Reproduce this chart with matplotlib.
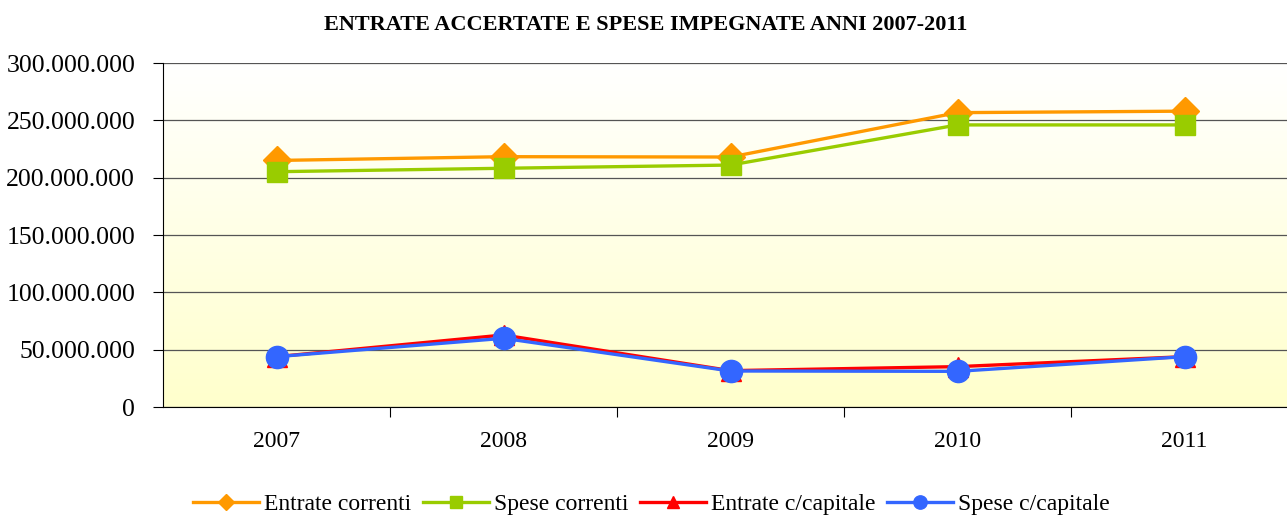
import numpy as np
import matplotlib.pyplot as plt
from matplotlib.ticker import FuncFormatter

years = ["2007", "2008", "2009", "2010", "2011"]
entrate_correnti = [215.0e6, 218.3e6, 218.0e6, 256.7e6, 258.0e6]
spese_correnti = [205.2e6, 208.2e6, 211.0e6, 246.0e6, 246.0e6]
entrate_capitale = [43.9e6, 62.8e6, 31.7e6, 35.2e6, 43.9e6]
spese_capitale = [43.9e6, 59.9e6, 31.4e6, 31.1e6, 43.9e6]

plt.rcParams['font.family'] = ['Liberation Serif', 'DejaVu Serif']

fig = plt.figure(figsize=(12.87, 5.15), dpi=100)
ax = fig.add_axes([163/1287, 1 - 407/515, 1135/1287, 344/515])

# background gradient: white at top, pale yellow at bottom
grad = np.linspace(0, 1, 256).reshape(-1, 1)
top = np.array([1.0, 1.0, 1.0])
bot = np.array([1.0, 1.0, 0.80])
img = top * (1 - grad[..., None]) + bot * grad[..., None]
ax.imshow(img, extent=[0, 1, 0, 1], transform=ax.transAxes, aspect='auto', zorder=0)

x = np.arange(len(years))
ax.plot(x, entrate_correnti, color='#FF9900', lw=2.4, marker='D', ms=14, label='Entrate correnti', zorder=3)
ax.plot(x, spese_correnti, color='#99CC00', lw=2.4, marker='s', ms=15, label='Spese correnti', zorder=3)
ax.plot(x, entrate_capitale, color='#FF0000', lw=2.4, marker='^', ms=15, label='Entrate c/capitale', zorder=3)
ax.plot(x, spese_capitale, color='#3366FF', lw=2.4, marker='o', ms=16, label='Spese c/capitale', zorder=3)

ax.set_xlim(-0.5, 4.5)
ax.set_ylim(0, 300e6)
ax.set_yticks(np.arange(0, 300e6 + 1, 50e6))
ax.yaxis.set_major_formatter(FuncFormatter(lambda v, p: f"{int(v):,}".replace(",", ".")))
ax.grid(axis='y', color='#555555', lw=0.9, zorder=1)
ax.set_axisbelow(True)

ax.set_xticks(np.arange(0.5, 4.5, 1.0))
ax.set_xticklabels([])
ax.set_xticks(x, minor=True)
ax.set_xticklabels(years, minor=True, fontsize=17)
ax.tick_params(axis='x', which='major', direction='out', length=7, color='black')
ax.tick_params(axis='x', which='minor', length=0, pad=17)
ax.tick_params(axis='y', direction='out', length=7, labelsize=18.5, pad=13)

for s in ['top', 'right']:
    ax.spines[s].set_visible(False)
ax.spines['left'].set_color('black')
ax.spines['bottom'].set_color('black')

fig.text(0.502, 1 - 25/515, "ENTRATE ACCERTATE E SPESE IMPEGNATE ANNI 2007-2011",
         ha='center', va='center', fontsize=16, fontweight='bold')

fig.legend(loc='center', bbox_to_anchor=(0.506, 1 - 504/515), ncol=4, frameon=False,
           fontsize=17, handlelength=2.8, handletextpad=0.2, columnspacing=0.5,
           markerscale=0.6)

fig.savefig("out.png", dpi=100)
